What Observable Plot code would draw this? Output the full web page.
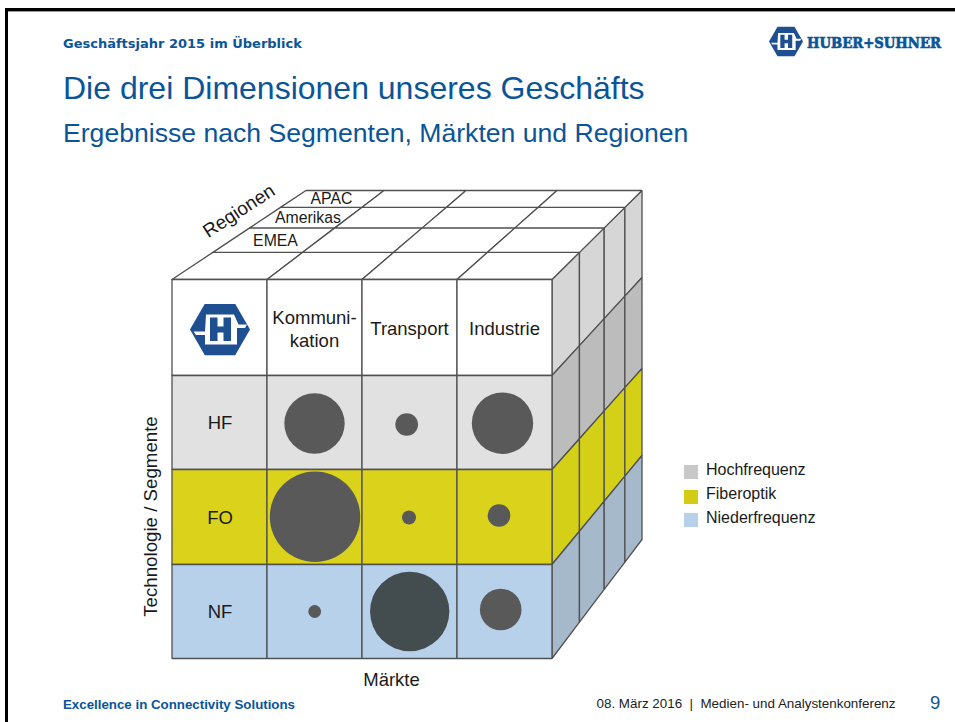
<!DOCTYPE html>
<html lang="de">
<head>
<meta charset="utf-8">
<script src="https://cdn.jsdelivr.net/npm/d3@7"></script>
<script src="https://cdn.jsdelivr.net/npm/@observablehq/plot@0.6"></script>
<style>
html,body{margin:0;padding:0;background:#fff;}
#page{position:relative;width:955px;height:722px;overflow:hidden;font-family:"Liberation Sans",Arial,sans-serif;}
.t{position:absolute;white-space:nowrap;line-height:1;}
.blue{color:#0a5599;}
#chart{position:absolute;left:0;top:170px;}
#frameTop{position:absolute;left:5px;right:0;top:8px;height:2.5px;background:#000;border-bottom:1px solid #999;}
#frameLeft{position:absolute;left:5px;top:8px;bottom:0;width:3px;background:#000;}
.sw{position:absolute;left:684px;width:14px;height:14px;}
.lg{font-size:16px;color:#1a1a1a;left:706px;}
</style>
</head>
<body>
<div id="page">
  <div id="frameTop"></div><div id="frameLeft"></div>
  <div class="t blue" style="left:63px;top:36px;font:bold 13px 'DejaVu Sans';line-height:1.2">Geschäftsjahr 2015 im Überblick</div>
  <div class="t blue" style="left:63px;top:72px;font-size:32px">Die drei Dimensionen unseres Geschäfts</div>
  <div class="t blue" style="left:63px;top:120px;font-size:26.6px">Ergebnisse nach Segmenten, Märkten und Regionen</div>
  <img id="logoSmall" alt="" style="position:absolute;left:769px;top:26px;width:34px;height:31px">
  <svg style="position:absolute;left:805px;top:30px" width="150" height="24"><text transform="translate(2 17.5) scale(1 1.2)" font-family="DejaVu Serif" font-weight="bold" font-size="13" fill="#0a5599" stroke="#0a5599" stroke-width=".6" textLength="134" lengthAdjust="spacingAndGlyphs">HUBER+SUHNER</text></svg>

  <div class="sw" style="top:465px;background:#c8c8c8"></div>
  <div class="sw" style="top:490px;background:#d4cc14"></div>
  <div class="sw" style="top:513px;background:#b8d1ea"></div>
  <div class="t lg" style="top:462px">Hochfrequenz</div>
  <div class="t lg" style="top:486px">Fiberoptik</div>
  <div class="t lg" style="top:510px">Niederfrequenz</div>

  <div class="t blue" style="left:63px;top:698px;font-weight:bold;font-size:13.3px">Excellence in Connectivity Solutions</div>
  <div class="t" style="left:596.5px;top:697px;font-size:13.4px;color:#222">08. März 2016&nbsp; |&nbsp; Medien- und Analystenkonferenz</div>
  <div class="t blue" style="left:930px;top:694px;font-size:18.5px">9</div>
  <div id="chart"></div>
</div>
<script>
// ---- data ----
const markets = ["Kommuni-\nkation", "Transport", "Industrie"];
const segments = ["HF", "FO", "NF"];
const regions = ["EMEA", "Amerikas", "APAC"];
const sizeHF = [44.6, 6.3, 46.1];
const sizeFO = [100, 2.4, 6.3];
const sizeNF = [2, 77, 21.2];

// ---- cube geometry (drawing only) ----
const frontX = [172, 267, 362, 457, 552];
const frontY = [279, 375, 469, 564, 658];
const backX = [306, 384, 466, 557, 642];
const backY = [190, 277, 368, 455, 539];
const depth = [0, 0.305, 0.58, 0.81, 1];
const px = (c, d) => frontX[c] + (backX[c] - frontX[c]) * depth[d];
const py = (r, d) => frontY[r] + (backY[r] - frontY[r]) * depth[d];

const frontFill = ["#ffffff", "#e1e1e1", "#dbd21b", "#b8d1ea"];
const sideFill = ["#d6d6d6", "#bcbcbc", "#d4cf17", "#a5b9cb"];
const polys = [];
let id = 0;
function poly(fill, pts) {
  id++;
  [...pts, pts[0]].forEach(p => polys.push({id, fill, x: p[0], y: p[1]}));
}
for (let r = 0; r < 4; r++) for (let d = 0; d < 4; d++)
  poly(sideFill[r], [[px(4,d),py(r,d)],[px(4,d+1),py(r,d+1)],[px(4,d+1),py(r+1,d+1)],[px(4,d),py(r+1,d)]]);
for (let c = 0; c < 4; c++) for (let d = 0; d < 4; d++)
  poly("#ffffff", [[px(c,d),py(0,d)],[px(c+1,d),py(0,d)],[px(c+1,d+1),py(0,d+1)],[px(c,d+1),py(0,d+1)]]);
for (let r = 0; r < 4; r++) for (let c = 0; c < 4; c++)
  poly(frontFill[r], [[px(c,0),py(r,0)],[px(c+1,0),py(r,0)],[px(c+1,0),py(r+1,0)],[px(c,0),py(r+1,0)]]);

const bubbleColors = [["#595959","#595959","#595959"],["#595959","#595959","#595959"],["#595959","#434c4e","#595959"]];
const nudgeX = [[0,-2.8,-2],[0.5,-0.5,-5.5],[0.2,0.2,-3.8]];
const nudgeY = [[1,2,0.7],[-0.2,0.5,-1.5],[0,0,-2]];
const bubbles = [sizeHF, sizeFO, sizeNF].flatMap((vals, r) => vals.map((v, c) => ({
  value: v,
  x: (frontX[c+1] + frontX[c+2]) / 2 + nudgeX[r][c],
  y: (frontY[r+1] + frontY[r+2]) / 2 + nudgeY[r][c],
  color: bubbleColors[r][c]
})));

// ---- logo ----
const logoSvg = `<svg xmlns="http://www.w3.org/2000/svg" viewBox="0 0 60 52"><path fill="#1d4f91" d="M15 0H45L60 26L45 52H15L0 26Z"/><path fill="#fff" d="M16 11H44L48.5 21H57L55 24.5H47V41H15V31.5H6L3.5 28H15Z"/><path fill="#1d4f91" d="M20 14H27.5V23H33.5V14H41V37.5H33.5V29H27.5V37.5H20Z"/></svg>`;
const logoUrl = "data:image/svg+xml;base64," + btoa(logoSvg);
document.getElementById("logoSmall").src = logoUrl;

const ink = "#1a1a1a";
const labelFont = "Liberation Sans, Arial, sans-serif";
const headerLabels = markets.map((m, c) => ({m, x: (frontX[c+1] + frontX[c+2]) / 2, y: c === 0 ? 327.5 : 327}));
const segmentLabels = segments.map((s, r) => ({s, x: 220, y: (frontY[r+1] + frontY[r+2]) / 2 + 1}));
const regionPos = [[275.5, 240.5], [308, 217.5], [331.5, 198]];
const regionLabels = regions.map((s, i) => ({s, x: regionPos[i][0], y: regionPos[i][1]}));

const chart = Plot.plot({
  width: 955, height: 525,
  marginTop: 0, marginRight: 0, marginBottom: 0, marginLeft: 0,
  x: {type: "linear", domain: [0.5, 955.5], range: [0, 955], axis: null},
  y: {type: "linear", domain: [170, 695], range: [0, 525], axis: null},
  r: {type: "sqrt", domain: [0, 100], range: [0, 45.2]},
  color: {type: "identity"},
  style: {background: "transparent", fontFamily: labelFont},
  marks: [
    Plot.line(polys, {x: "x", y: "y", z: "id", fill: "fill", stroke: "#505050", strokeWidth: 1.3, curve: "linear", strokeLinejoin: "miter"}),
    Plot.dot(bubbles, {x: "x", y: "y", r: "value", fill: "color", stroke: "none"}),
    Plot.image([0], {x: () => 220, y: () => 329, width: 60, height: 52, src: logoUrl}),
    Plot.text(headerLabels, {x: "x", y: "y", text: "m", fontSize: 18.5, fill: ink, lineHeight: 1.25}),
    Plot.text(segmentLabels, {x: "x", y: "y", text: "s", fontSize: 18.5, fill: ink}),
    Plot.text(regionLabels, {x: "x", y: "y", text: "s", fontSize: 15.8, fill: ink}),
    Plot.text(["Regionen"], {x: () => 239, y: () => 210.5, text: d => d, fontSize: 19, rotate: -33, fill: ink}),
    Plot.text(["Technologie / Segmente"], {x: () => 151, y: () => 516, text: d => d, fontSize: 18.7, rotate: -90, fill: ink}),
    Plot.text(["Märkte"], {x: () => 391.5, y: () => 680, text: d => d, fontSize: 18.5, fill: ink})
  ]
});
document.getElementById("chart").appendChild(chart);
</script>
</body>
</html>
